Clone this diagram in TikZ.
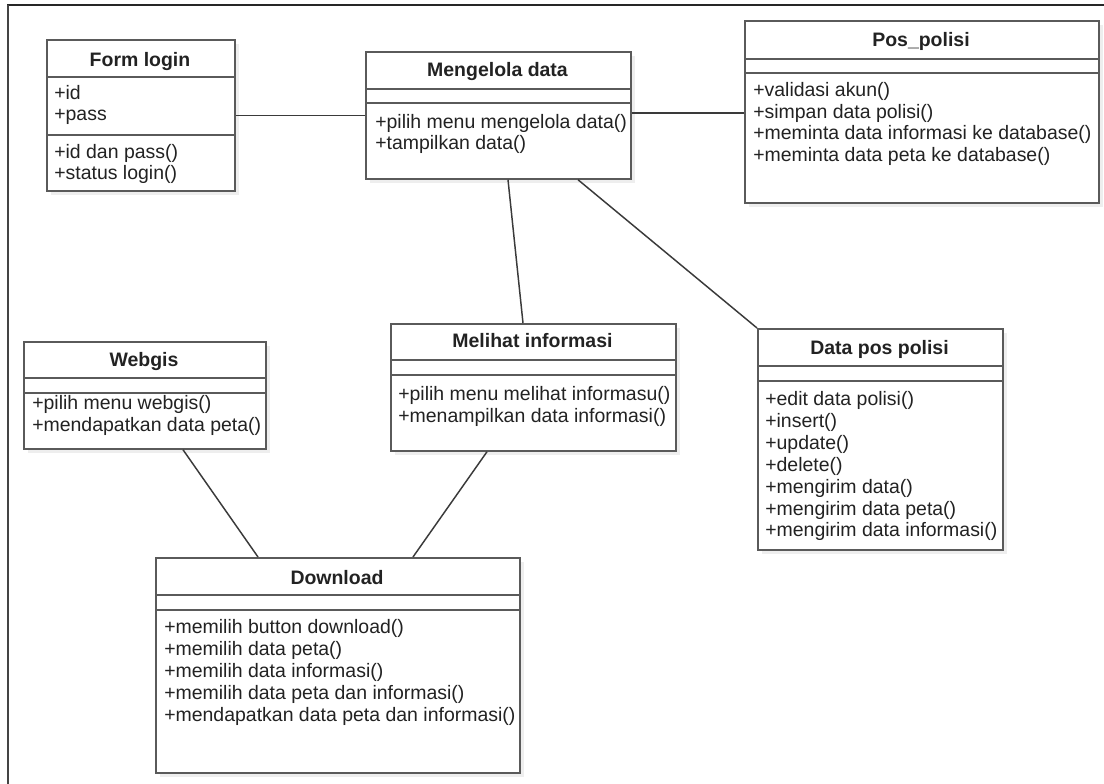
\documentclass[tikz,border=0pt]{standalone}
\usepackage{fontspec}
\setmainfont{Liberation Sans}
\definecolor{boxc}{HTML}{5A5A5A}
\definecolor{txtc}{HTML}{222222}
\definecolor{linec}{HTML}{3A3A3A}
\definecolor{shc}{HTML}{EEEEEE}
\definecolor{framec}{HTML}{444444}
\newcommand\umlbox[7]{%
  \fill[shc] (#2+5,#3+5) rectangle (#4+5,#5+5);
  \node[box, minimum width={(#4-#2)*0.75pt}, minimum height={(#5-#3)*0.75pt}] (#1) at (#2,#3) {};
  \draw[divl] (#1.west |- 0,#6) -- (#1.east |- 0,#6);
  \draw[divl] (#1.west |- 0,#7) -- (#1.east |- 0,#7);
}
\begin{document}
\begin{tikzpicture}[x=0.75pt,y=-0.75pt,
  box/.style={draw=boxc, line width=1.3pt, fill=white, rectangle, inner sep=0pt, anchor=north west},
  divl/.style={draw=boxc, line width=1.3pt},
  txt/.style={anchor=base west, inner sep=0pt, text=txtc, font=\fontsize{14.6}{17}\selectfont},
  ttl/.style={anchor=base, inner sep=0pt, text=txtc, font=\fontsize{14.6}{17}\selectfont\bfseries},
  link/.style={draw=linec, line width=1.1pt}]
\useasboundingbox (0,0) rectangle (1104,784);
\fill[white] (0,0) rectangle (1104,784);
% frame
\draw[line width=1.6pt, draw=black!85] (7,5) -- (1104,5);
\draw[line width=2pt, draw=framec] (8,5) -- (8,784);
% boxes
\umlbox{form}{46}{39}{234}{190}{77}{135}
\umlbox{meng}{365}{51}{630}{178}{89}{103}
\umlbox{pos}{744}{20}{1098}{202}{59}{73}
\umlbox{web}{23}{341}{265}{448}{378}{393}
\umlbox{mel}{390}{323}{675}{450}{360}{375}
\umlbox{dpp}{757}{328}{1002}{549}{366}{381}
\umlbox{down}{155}{557}{519}{772}{595}{610}
% titles
\node[ttl] (formt) at (140,67) {Form login};
\node[ttl] (mengt) at (497.5,77) {Mengelola data};
\node[ttl] (post) at (921,47) {Pos\_polisi};
\node[ttl] (webt) at (144,367) {Webgis};
\node[ttl] (melt) at (532.5,348) {Melihat informasi};
\node[ttl] (dppt) at (879.5,355) {Data pos polisi};
\node[ttl] (downt) at (337,584) {Download};
% members
\foreach \txt [count=\k] in {+id,+pass}
  \node[txt] (forma\k) at (54,{100+21*(\k-1)}) {\txt};
\foreach \txt [count=\k] in {+id dan pass(),+status login()}
  \node[txt] (formm\k) at (54,{159+21*(\k-1)}) {\txt};
\foreach \txt [count=\k] in {+pilih menu mengelola data(),+tampilkan data()}
  \node[txt] (mengm\k) at (375,{129+21*(\k-1)}) {\txt};
\foreach \txt [count=\k] in {+validasi akun(),+simpan data polisi(),+meminta data informasi ke database(),+meminta data peta ke database()}
  \node[txt] (posm\k) at (753,{97+21.5*(\k-1)}) {\txt};
\foreach \txt [count=\k] in {+pilih menu webgis(),+mendapatkan data peta()}
  \node[txt] (webm\k) at (32,{410+21.5*(\k-1)}) {\txt};
\foreach \txt [count=\k] in {+pilih menu melihat informasu(),+menampilkan data informasi()}
  \node[txt] (melm\k) at (398,{400.5+21.5*(\k-1)}) {\txt};
\foreach \txt [count=\k] in {+edit data polisi(),+insert(),+update(),+delete(),+mengirim data(),+mengirim data peta(),+mengirim data informasi()}
  \node[txt] (dppm\k) at (765,{406+21.8*(\k-1)}) {\txt};
\foreach \txt [count=\k] in {+memilih button download(),+memilih data peta(),+memilih data informasi(),+memilih data peta dan informasi(),+mendapatkan data peta dan informasi()}
  \node[txt] (downm\k) at (164,{633+22*(\k-1)}) {\txt};
% connectors
\draw[link] (form.east) -- (meng.west);
\draw[link] (meng.east |- 0,113) -- (pos.west |- 0,113);
\draw[link] (meng.south -| 508,0) -- (mel.north -| 523,0);
\draw[link] (meng.south -| 578,0) -- (dpp.north west);
\draw[link] (web.south -| 183,0) -- (down.north -| 258,0);
\draw[link] (mel.south -| 487,0) -- (down.north -| 413,0);
\end{tikzpicture}
\end{document}
